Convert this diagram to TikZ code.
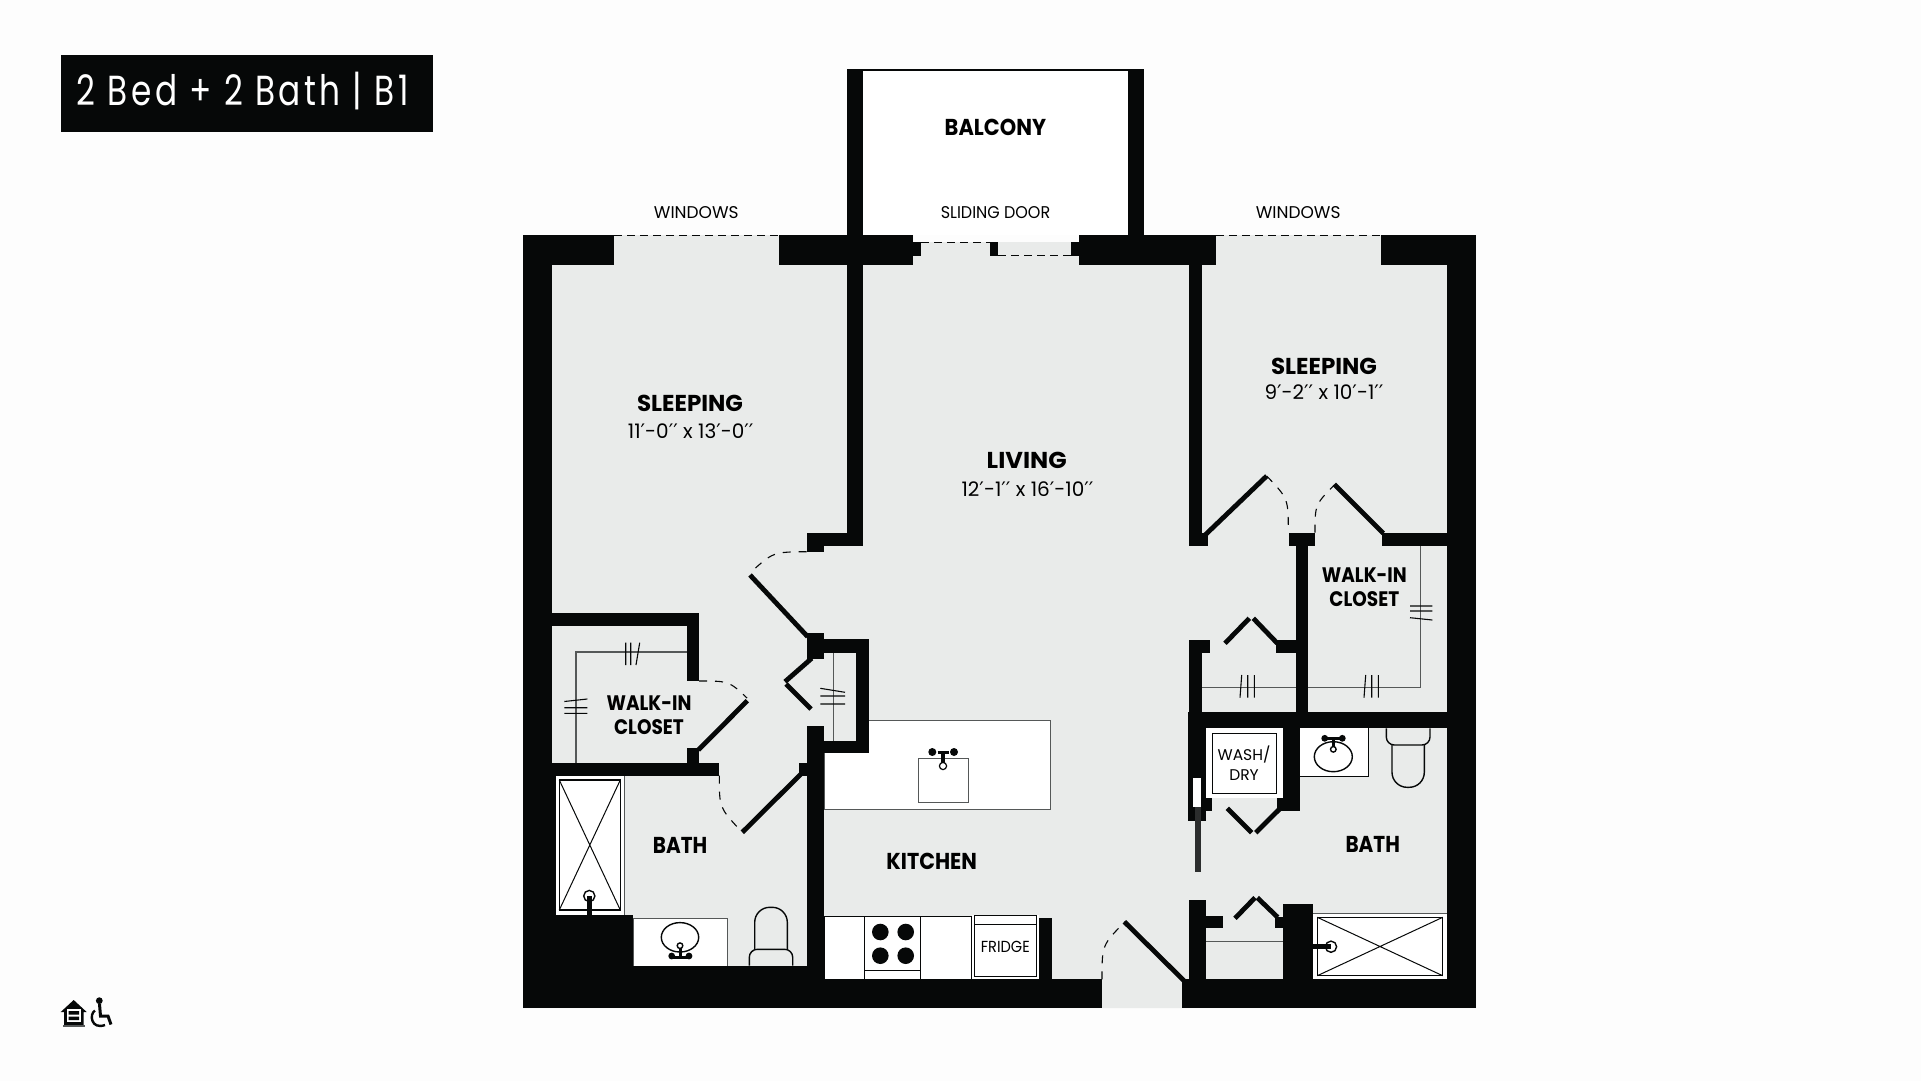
\documentclass[tikz,border=0pt]{standalone}
\usepackage{fontspec}
\setmainfont{Poppins}
\newfontfamily\primefont{DejaVu Sans}
\definecolor{wallblack}{RGB}{6, 8, 8}
\definecolor{floorgrey}{RGB}{233, 235, 234}
\definecolor{paper}{RGB}{253, 253, 253}
\definecolor{rodgrey}{RGB}{85, 88, 88}
\newcommand{\ft}{{\primefont′}}
\newcommand{\inch}{{\primefont′′}}
\newcommand{\squeezed}[2]{{\addfontfeatures{FakeStretch=#1}#2}}
\tikzset{
  wall/.style={fill=wallblack, draw=none},
  unit/.style={fill=white, draw=rodgrey, line width=0.8pt},
  fixture/.style={draw=wallblack, line width=1.4pt},
  leaf/.style={draw=wallblack, line width=4.8pt},
  swing/.style={draw=wallblack, line width=1.1pt, dash pattern=on 8pt off 8pt},
  glazing/.style={draw=wallblack, line width=1pt, dash pattern=on 8pt off 5pt},
  rod/.style={draw=rodgrey, line width=1.4pt},
  tick/.style={draw=wallblack, line width=1.1pt},
  roomlabel/.style={font=\fontsize{23}{24}\selectfont\bfseries, align=center, inner sep=0pt},
  closetlabel/.style={font=\fontsize{21}{24}\selectfont\bfseries, align=center, inner sep=0pt},
  dimlabel/.style={font=\fontsize{20}{22}\selectfont, inner sep=0pt},
  smalllabel/.style={font=\fontsize{17}{24}\selectfont, align=center, inner sep=0pt},
}

\begin{document}
\begin{tikzpicture}[x=1pt, y=-1pt]
  \useasboundingbox (0,0) rectangle (1921,1081);
  \fill[paper] (0,0) rectangle (1921,1081);

  % floor
  \fill[floorgrey] (523,235) -- (913,235) -- (913,242) -- (1079,242) -- (1079,235) -- (1476,235)
    -- (1476,1008) -- (523,1008) -- cycle;

  % balcony
  \fill[white] (863,70) rectangle (1128,235);
  \draw[wallblack, line width=1.2pt] (863,70) -- (1128,70);

  % glazing
  \draw[glazing] (614,235) -- (779,235);
  \draw[glazing] (1216,235) -- (1381,235);
  \draw[glazing] (921,242) -- (990,242);
  \draw[glazing] (998,255.7) -- (1071,255.7);

  % fixtures, kitchen
  \draw[unit] (824,720.7) rectangle (1050.3,809.3);
  \fill[floorgrey] (824,652.7) rectangle (856,741);
  \draw[unit] (918,758.3) rectangle (968.3,802.3);
  \draw[unit, draw=wallblack] (824,916.3) rectangle (971.7,979.3);
  \draw[unit, draw=wallblack] (864.3,916.3) rectangle (920.7,979.3);
  \draw[fixture, line width=1pt] (864.3,970.7) -- (920.7,970.7);
  \foreach \bx/\by in {880.3/932, 905.7/932, 880.3/955.7, 905.7/955.7}
    \fill[wallblack] (\bx,\by) circle (8.3);
  \fill[white] (971.7,915) rectangle (1039.3,979.3);
  \draw[unit, draw=wallblack] (974.3,915.7) rectangle (1036.7,976.7);
  \draw[fixture, line width=1pt] (974.3,924.7) -- (1036.7,924.7);
  % faucet, kitchen
  \fill[wallblack] (932.3,752) circle (4) (954,752) circle (4);
  \draw[fixture, line width=4.5pt] (943,751) -- (943,765);
  \draw[fixture, line width=3pt] (937.5,752) -- (948.5,752);
  \draw[fixture, line width=1.2pt, fill=white] (943,766) circle (3.6);

  % fixtures, bath by bedroom one
  \fill[white] (556,776) rectangle (623.5,915);
  \draw[rodgrey, line width=0.8pt] (624.3,776) -- (624.3,915);
  \draw[fixture] (559.3,780) rectangle (620.3,910);
  \draw[fixture, line width=1pt] (559.3,780) -- (620.3,910) (620.3,780) -- (559.3,910);
  \draw[fixture, fill=white] (589.3,896) circle (5.6);
  \draw[unit] (633.3,918.3) rectangle (727.3,966);
  \draw[fixture, fill=white] (680,937.3) ellipse (18.7 and 14.7);
  \draw[fixture, line width=3pt] (680,947) -- (680,957) (672,957) -- (688,957);
  \fill[wallblack] (671.7,956) circle (3.4) (689,956) circle (3.4);
  \draw[fixture, fill=white] (680,945.7) circle (2.8);
  \draw[fixture, rounded corners=15pt] (754.7,949.3) -- (754.7,907.3) -- (787.3,907.3) -- (787.3,949.3);
  \draw[fixture, rounded corners=8pt] (749.3,965.7) -- (749.3,949.3) -- (792.7,949.3) -- (792.7,965.7);

  % fixtures, bath by bedroom two
  \fill[white] (1206,728) rectangle (1282.7,798);
  \draw[unit, draw=wallblack] (1212.3,733.3) rectangle (1276.3,793.3);
  \fill[white] (1299.7,728.3) rectangle (1368.7,776.3);
  \draw[fixture] (1299.7,776.3) -- (1368.7,776.3) -- (1368.7,728.3);
  \draw[fixture, fill=white] (1333.3,756.7) ellipse (19 and 15);
  \draw[fixture, line width=3pt] (1333.3,749) -- (1333.3,738) (1326,738) -- (1341,738);
  \fill[wallblack] (1324.7,738.3) circle (3.4) (1342.3,738.3) circle (3.4);
  \draw[fixture, fill=white] (1333.3,749.3) circle (2.8);
  \draw[fixture, rounded corners=15pt] (1392,745) -- (1392,787.3) -- (1424.3,787.3) -- (1424.3,745);
  \draw[fixture, rounded corners=8pt] (1386.3,728.3) -- (1386.3,745) -- (1430,745) -- (1430,728.3);
  \fill[white] (1313,913.3) rectangle (1446.7,979.3);
  \draw[rodgrey, line width=0.8pt] (1313,913.3) -- (1446.7,913.3);
  \draw[fixture] (1317.3,917.3) rectangle (1442.7,975.7);
  \draw[fixture, line width=1pt] (1317.3,917.3) -- (1442.7,975.7) (1442.7,917.3) -- (1317.3,975.7);
  \draw[fixture, fill=white] (1331,946.7) circle (5.6);

  % closet rods
  \draw[rod] (576,763) -- (576,652) -- (686.7,652);
  \draw[rod] (833.3,652.7) -- (833.3,741);
  \draw[rod] (1420.7,545.7) -- (1420.7,687.7) -- (1201,687.7);
  \draw[rod] (1206,941.3) -- (1283,941.3);
  \draw[tick] (625.7,642.7) -- (625.7,665) (630.7,642.7) -- (630.7,665) (639.7,642.7) -- (636,665);
  \draw[tick] (564.3,701.5) -- (587.3,699) (564.3,707.7) -- (587.3,707.7) (564.3,713.3) -- (587.3,713.3);
  \draw[tick] (820.3,688.3) -- (845,692.3) (820.3,696) -- (845,696) (820.3,704) -- (845,704);
  \draw[tick] (1410,606) -- (1432.3,606) (1410,611) -- (1432.3,611) (1410,617.7) -- (1432.3,620);
  \draw[tick] (1241.7,675) -- (1240,697.7) (1247.7,675) -- (1247.7,697.7) (1254.3,675) -- (1254.3,697.7);
  \draw[tick] (1365.7,675) -- (1364,697.7) (1371.7,675) -- (1371.7,697.7) (1378.3,675) -- (1378.3,697.7);

  % outer walls
  \fill[wall] (523,235) rectangle (552,1008.3);
  \fill[wall] (523,235) rectangle (614,265);
  \fill[wall] (779,235) rectangle (913,265);
  \fill[wall] (913,241.7) rectangle (921,256);
  \fill[wall] (990.3,241.7) rectangle (998.3,256);
  \fill[wall] (1071,241.7) rectangle (1079,256);
  \fill[wall] (1079,235) rectangle (1216,265);
  \fill[wall] (1381,235) rectangle (1476,265);
  \fill[wall] (1446.7,235) rectangle (1476,1008.3);
  \fill[wall] (523,979.3) rectangle (1102,1008.3);
  \fill[wall] (1182.3,979.3) rectangle (1476,1008.3);
  \fill[wall] (847.3,69.3) rectangle (863.3,235);
  \fill[wall] (1127.7,69.3) rectangle (1144,235);

  % inner walls, left
  \fill[wall] (847.3,235) rectangle (863.3,545.7);
  \fill[wall] (807,533) rectangle (863.3,545.7);
  \fill[wall] (807,533) rectangle (824,552.3);
  \fill[wall] (552,613) rectangle (699.3,625.7);
  \fill[wall] (686.7,613) rectangle (699.3,681);
  \fill[wall] (686.7,748.3) rectangle (699.3,775.7);
  \fill[wall] (552,763) rectangle (719.3,775.7);
  \fill[wall] (552,776) rectangle (556,915);
  \fill[wall] (552,915) rectangle (633.3,1008.3);
  \fill[wall] (633.3,965.7) rectangle (824,1008.3);
  \fill[wall] (807,633.3) rectangle (824,659.3);
  \fill[wall] (824,639.3) rectangle (869,652.7);
  \fill[wall] (856,639.3) rectangle (869,753);
  \fill[wall] (824,741) rectangle (869,753);
  \fill[wall] (807,725.7) rectangle (824,1008.3);
  \fill[wall] (798.7,763.3) rectangle (807,775.7);
  \fill[wall] (1039.3,918.3) rectangle (1052.3,979.3);
  \fill[wall] (586.9,896) rectangle (591.7,915);

  % inner walls, right
  \fill[wall] (1189,235) rectangle (1201.7,545.7);
  \fill[wall] (1189,533.3) rectangle (1208.3,545.7);
  \fill[wall] (1288.7,532.7) rectangle (1315,545.7);
  \fill[wall] (1296,545.7) rectangle (1308.3,711.7);
  \fill[wall] (1382.3,533.3) rectangle (1446.7,545.7);
  \fill[wall] (1188.3,711.7) rectangle (1446.7,728.3);
  \fill[wall] (1189,640) rectangle (1201.7,711.7);
  \fill[wall] (1189,640) rectangle (1210,652.7);
  \fill[wall] (1275.7,640) rectangle (1296,652.7);
  \fill[wall] (1188.3,728.3) rectangle (1206,821);
  \fill[paper] (1193.3,778.3) rectangle (1201,806.7);
  \fill[wall] (1206,798.3) rectangle (1211.7,811);
  \fill[wall] (1282.7,728.3) rectangle (1299.7,810.7);
  \fill[wall] (1277.3,798) rectangle (1282.7,810.7);
  \fill[wallblack!85!white] (1194.5,806.7) rectangle (1200.5,871.7);
  \fill[wall] (1189,900) rectangle (1206,980);
  \fill[wall] (1206,915.7) rectangle (1223,928.3);
  \fill[wall] (1283,904) rectangle (1313,980);
  \fill[wall] (1275,916.7) rectangle (1283,928.3);
  \fill[wall] (1313,944.3) rectangle (1331,949.1);

  % door leaves
  \draw[leaf] (750,575) -- (807.7,636.7);
  \draw[leaf] (747.3,700.7) -- (698.3,750);
  \draw[leaf] (742.3,832.3) -- (801.7,773.3);
  \draw[leaf] (785,681.7) -- (811.7,658.3);
  \draw[leaf] (786,684) -- (811,709);
  \draw[leaf] (1124.3,921.7) -- (1185,981.7);
  \draw[leaf] (1203.3,536.7) -- (1266.7,476);
  \draw[leaf] (1334.3,484.3) -- (1383.3,533.3);
  \draw[leaf] (1225,643.3) -- (1249.3,618.3);
  \draw[leaf] (1253.3,618.3) -- (1277.3,643.3);
  \draw[leaf] (1227.3,808.3) -- (1251.7,832.7);
  \draw[leaf] (1255.7,832.7) -- (1279.3,809.3);
  \draw[leaf] (1235,918.3) -- (1255,897.7);
  \draw[leaf] (1257.3,897.7) -- (1277.7,917.3);

  % door swings
  \draw[swing] (806.7,551.7) .. controls (773,552) .. (750,573);
  \draw[swing] (699,681) .. controls (729,681) .. (747,698);
  \draw[swing] (719.3,775.7) .. controls (719.3,807.5) .. (740,830);
  \draw[swing] (1102,979.3) .. controls (1102,945) .. (1125,921.7);
  \draw[swing] (1266.7,476) .. controls (1288.3,498.6) .. (1288.3,532.3);
  \draw[swing] (1315,532.7) .. controls (1315,504.6) .. (1334.3,485);

  % title
  \fill[wall] (60.7,55.3) rectangle (433.3,131.7);
  \node[text=white, inner sep=0pt, anchor=base, font=\fontsize{42}{44}\selectfont] (title) at (242.7,105)
    {\addfontfeatures{FakeStretch=0.78, LetterSpace=8.2}2 Bed + 2 Bath | B1};

  % labels
  \node[roomlabel] (balcony) at (995.4,127.7) {\squeezed{0.91}{BALCONY}};
  \node[smalllabel] (windowsa) at (696.3,212.3) {WINDOWS};
  \node[smalllabel] (slider) at (995.5,212.3) {\squeezed{0.94}{SLIDING DOOR}};
  \node[smalllabel] (windowsb) at (1298.2,212.3) {WINDOWS};
  \node[roomlabel] (sleepinga) at (690,403.3) {SLEEPING};
  \node[dimlabel] (sizea) at (690.7,431) {11\ft-0\inch{} x 13\ft-0\inch};
  \node[roomlabel] (sleepingb) at (1324,366) {SLEEPING};
  \node[dimlabel] (sizeb) at (1324,392.3) {9\ft-2\inch{} x 10\ft-1\inch};
  \node[roomlabel] (living) at (1026.7,460.7) {\squeezed{1.05}{LIVING}};
  \node[dimlabel] (sizec) at (1027.5,489.3) {12\ft-1\inch{} x 16\ft-10\inch};
  \node[closetlabel] (closeta) at (649,714.8) {\squeezed{0.88}{WALK-IN}\\\squeezed{0.88}{CLOSET}};
  \node[closetlabel] (closetb) at (1364.3,587) {\squeezed{0.88}{WALK-IN}\\\squeezed{0.88}{CLOSET}};
  \node[roomlabel] (batha) at (680,845.7) {\squeezed{0.87}{BATH}};
  \node[roomlabel] (bathb) at (1372.7,844) {\squeezed{0.87}{BATH}};
  \node[roomlabel] (kitchen) at (931.7,861.7) {\squeezed{0.9}{KITCHEN}};
  \node[smalllabel, font=\fontsize{16}{20}\selectfont] (fridge) at (1005.3,946.7) {\squeezed{0.91}{FRIDGE}};
  \node[smalllabel, font=\fontsize{15.5}{20}\selectfont] (washer) at (1244,763.3) {WASH/\\DRY};

  % access marks
  \fill[wallblack] (60.7,1012) -- (73.7,1000) -- (86.7,1012) -- (83.5,1012) -- (83.5,1025) -- (64,1025) -- (64,1012) -- cycle;
  \fill[white] (67,1009) rectangle (80.5,1022);
  \fill[wallblack] (68.5,1011) rectangle (79,1014.5) (68.5,1016.5) rectangle (79,1020);
  \fill[rodgrey] (62.5,1024.5) rectangle (85,1027);
  \fill[wallblack] (99.3,1000.7) circle (3.4);
  \draw[wallblack, line width=3pt] (99.5,1004) -- (100.5,1016) -- (108,1016) -- (111,1024.5);
  \draw[wallblack, line width=2.4pt] (95,1010.5) .. controls (89,1014) and (91,1030) .. (105,1025);
\end{tikzpicture}
\end{document}
